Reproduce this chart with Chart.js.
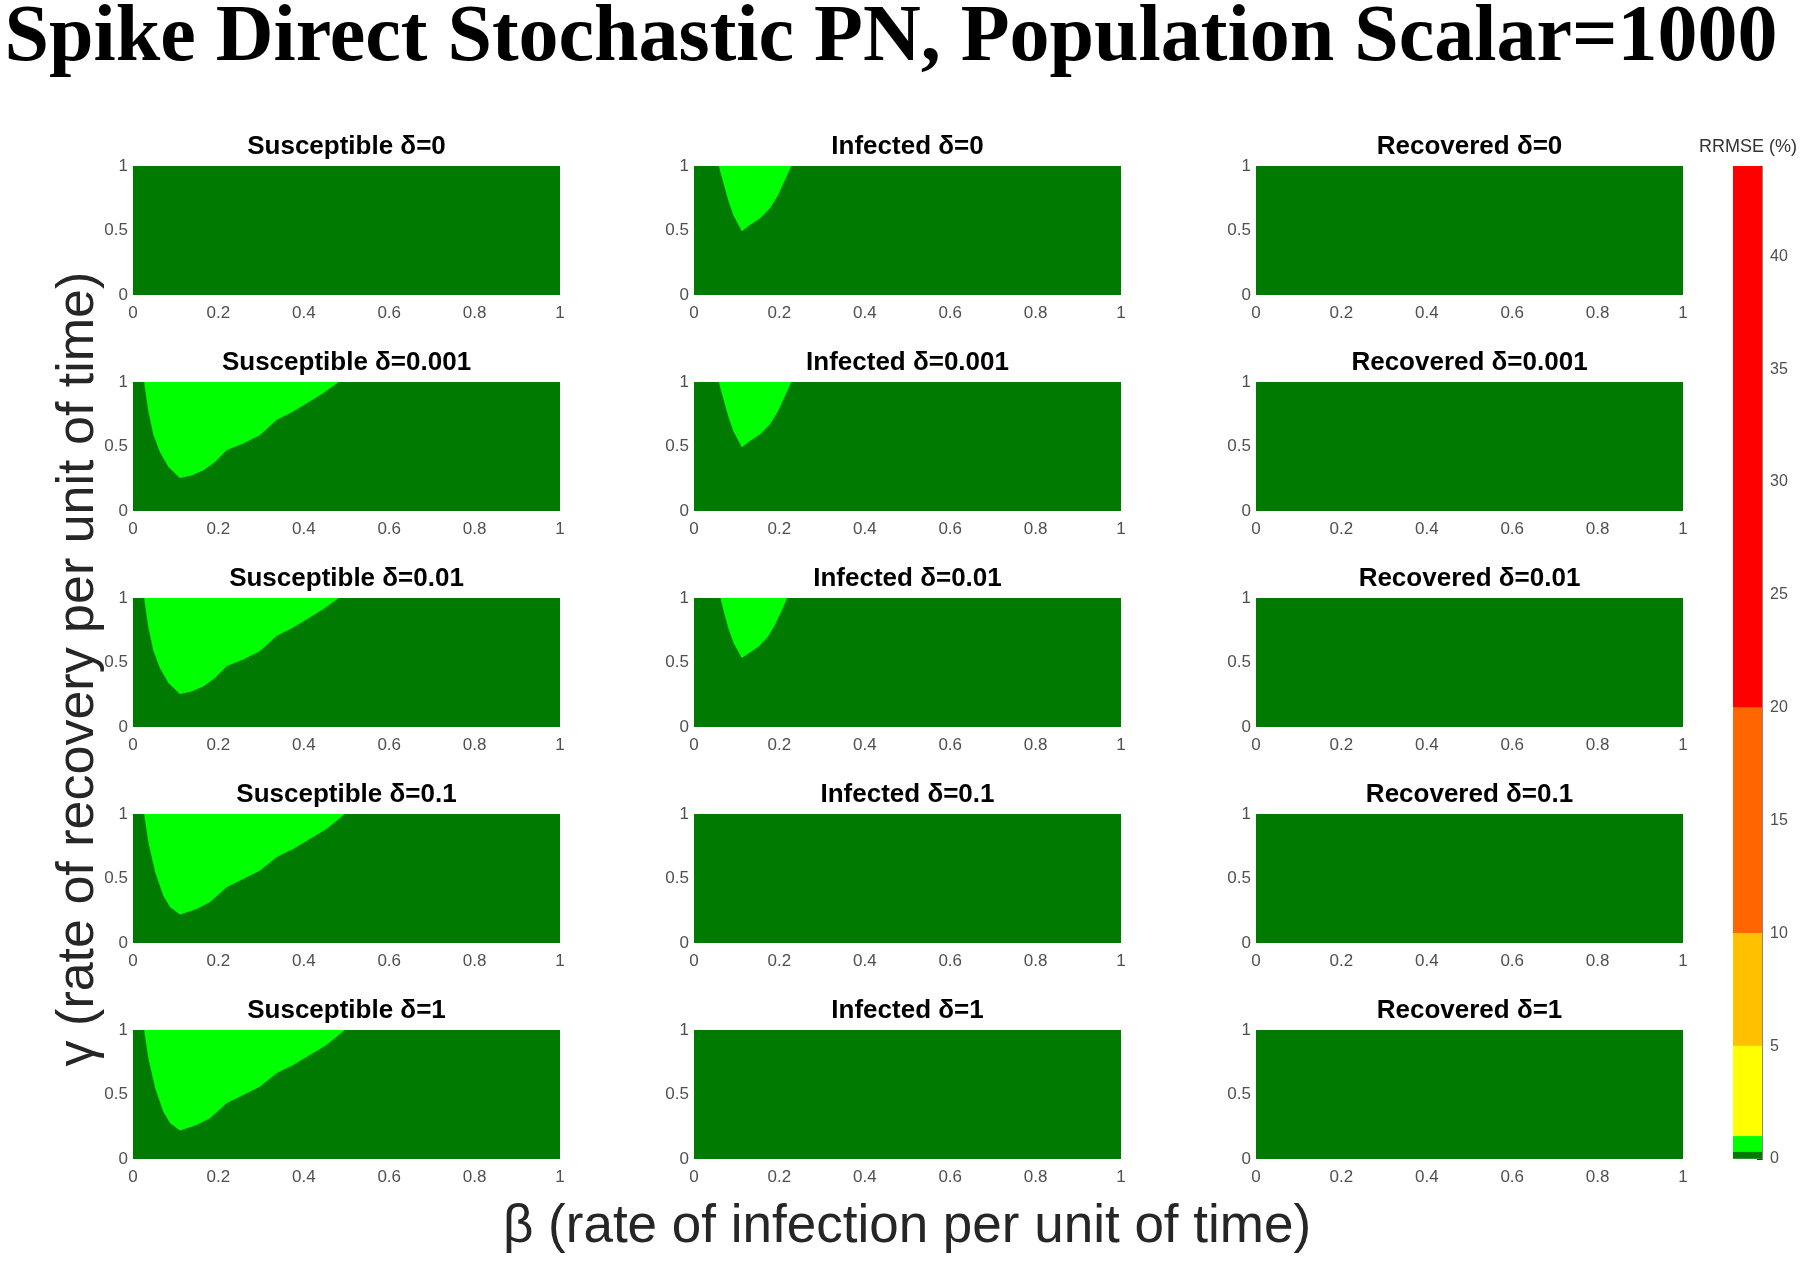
<!DOCTYPE html>
<html>
<head>
<meta charset="utf-8">
<script src="https://cdn.jsdelivr.net/npm/chart.js@4.4.1/dist/chart.umd.min.js"></script>
<style>
html,body{margin:0;padding:0;background:#fff;width:1800px;height:1263px;overflow:hidden;position:relative;}
canvas{position:absolute;}
.lbl{position:absolute;white-space:nowrap;text-align:center;}
#title{left:0;top:-7px;width:1782px;height:80px;font:bold 80px/80px "Liberation Serif","Times New Roman",serif;color:#000;}
#xlabel{left:407px;width:1000px;top:1197px;height:53px;font:53px/53px "Liberation Sans",Arial,sans-serif;color:#262626;}
#ylabel{left:-425px;width:1000px;top:643px;height:52px;font:52px/52px "Liberation Sans",Arial,sans-serif;color:#262626;transform:rotate(-90deg);transform-origin:50% 50%;}
</style>
</head>
<body>
<div id="title" class="lbl">Spike Direct Stochastic PN, Population Scalar=1000</div>
<div id="ylabel" class="lbl">γ (rate of recovery per unit of time)</div>
<div id="xlabel" class="lbl">β (rate of infection per unit of time)</div>
<script>
// ---------------- data ----------------
const compartments = ['Susceptible', 'Infected', 'Recovered'];
const deltaLabels = ['0', '0.001', '0.01', '0.1', '1'];
const betaTicks = [0, 0.2, 0.4, 0.6, 0.8, 1];
const gammaTicks = [0, 0.5, 1];
const betaRange = [0, 1];
const gammaRange = [0, 1];

// boundary of the bright-green (0.3–1 % RRMSE) region; region lies above the curve
const susBetaA  = [0.026, 0.036, 0.048, 0.063, 0.083, 0.110, 0.137, 0.165, 0.192, 0.219, 0.258, 0.297, 0.336, 0.375, 0.414, 0.446, 0.482];
const susGammaA = [1.000, 0.771, 0.588, 0.458, 0.341, 0.255, 0.276, 0.315, 0.380, 0.471, 0.523, 0.588, 0.706, 0.771, 0.849, 0.914, 1.000];
const susBetaB  = [0.026, 0.036, 0.052, 0.071, 0.087, 0.110, 0.149, 0.180, 0.219, 0.258, 0.297, 0.336, 0.375, 0.414, 0.453, 0.496];
const susGammaB = [1.000, 0.780, 0.548, 0.367, 0.277, 0.220, 0.264, 0.315, 0.432, 0.496, 0.560, 0.664, 0.729, 0.806, 0.884, 1.000];
const infBetaA  = [0.058, 0.069, 0.080, 0.092, 0.112, 0.131, 0.155, 0.178, 0.197, 0.213, 0.228];
const infGammaA = [1.000, 0.866, 0.736, 0.620, 0.495, 0.543, 0.594, 0.672, 0.775, 0.891, 1.000];
const infBetaB  = [0.062, 0.071, 0.081, 0.093, 0.112, 0.130, 0.152, 0.173, 0.190, 0.205, 0.218];
const infGammaB = [1.000, 0.880, 0.760, 0.650, 0.535, 0.575, 0.625, 0.700, 0.795, 0.900, 1.000];

// region shown in each panel: rows = delta, columns = compartment
const panelRegions = [
  [null,                             {beta: infBetaA, gamma: infGammaA}, null],
  [{beta: susBetaA, gamma: susGammaA}, {beta: infBetaA, gamma: infGammaA}, null],
  [{beta: susBetaA, gamma: susGammaA}, {beta: infBetaB, gamma: infGammaB}, null],
  [{beta: susBetaB, gamma: susGammaB}, null,                             null],
  [{beta: susBetaB, gamma: susGammaB}, null,                             null]
];

// colour bar (RRMSE %)
const colorbarEdges = [0, 0.3, 1, 5, 10, 20, 44];
const colorbarColors = ['#007A00', '#00FF00', '#FFFF00', '#FFC000', '#FF6600', '#FF0000'];
const colorbarTicks = [0, 5, 10, 15, 20, 25, 30, 35, 40];

// ---------------- drawing ----------------
Chart.defaults.font.family = '"Liberation Sans", Arial, sans-serif';
Chart.defaults.animation = false;
Chart.defaults.events = [];
const TICK = '#505050';

const plotLefts = [133, 694, 1256];
const plotTops = [166, 382, 598, 814, 1030];
const PW = 427, PH = 129, YAX = 45, XAX = 30, TTL = 32;

function makeCanvas(left, top, w, h) {
  const c = document.createElement('canvas');
  c.width = w; c.height = h;
  c.style.left = left + 'px'; c.style.top = top + 'px';
  c.style.width = w + 'px'; c.style.height = h + 'px';
  document.body.appendChild(c);
  return c;
}

function panel(row, col) {
  const region = panelRegions[row][col];
  const datasets = [];
  if (region) {
    datasets.push({
      data: region.beta.map((b, i) => ({x: b, y: region.gamma[i]})),
      fill: 'end', backgroundColor: colorbarColors[1], borderColor: 'rgba(0,0,0,0)',
      borderWidth: 0, pointRadius: 0, tension: 0, order: 0
    });
  }
  datasets.push({
    data: betaRange.map(b => ({x: b, y: gammaRange[1]})),
    fill: 'start', backgroundColor: colorbarColors[0], borderColor: 'rgba(0,0,0,0)',
    borderWidth: 0, pointRadius: 0, tension: 0, order: 1
  });
  const w = YAX + PW + YAX, h = TTL + PH + XAX;
  const cv = makeCanvas(plotLefts[col] - YAX, plotTops[row] - TTL, w, h);
  new Chart(cv, {
    type: 'line',
    data: {datasets},
    options: {
      responsive: false, devicePixelRatio: 1,
      layout: {padding: {left: 0, right: YAX, top: 0, bottom: 0}},
      plugins: {
        legend: {display: false}, tooltip: {enabled: false},
        title: {display: true, fullSize: false, text: compartments[col] + ' δ=' + deltaLabels[row], color: '#000',
                font: {size: 26, weight: 'bold', lineHeight: 1}, padding: {top: 0, bottom: 6}}
      },
      scales: {
        x: {type: 'linear', min: betaRange[0], max: betaRange[1],
            afterBuildTicks: s => { s.ticks = betaTicks.map(v => ({value: v})); },
            afterFit: s => { s.height = XAX; },
            grid: {display: false, drawTicks: false}, border: {display: false},
            ticks: {padding: 8, color: TICK, font: {size: 17}, maxRotation: 0, autoSkip: false, callback: v => String(v)}},
        y: {type: 'linear', min: gammaRange[0], max: gammaRange[1],
            afterBuildTicks: s => { s.ticks = gammaTicks.map(v => ({value: v})); },
            afterFit: s => { s.width = YAX; },
            grid: {display: false, drawTicks: false}, border: {display: false},
            ticks: {padding: 5, color: TICK, font: {size: 17}, autoSkip: false, callback: v => String(v)}}
      }
    }
  });
}

for (let r = 0; r < deltaLabels.length; r++)
  for (let c = 0; c < compartments.length; c++) panel(r, c);

// colour bar
(function () {
  const left = 1696, top = 138, w = 104, h = 28 + 993 + 23;
  const cv = makeCanvas(left, top, w, h);
  const datasets = colorbarColors.map((col, i) => ({
    data: [[colorbarEdges[i], colorbarEdges[i + 1]]],
    xAxisID: 'x', yAxisID: 'y',
    backgroundColor: col, borderWidth: 0, barPercentage: 1, categoryPercentage: 1, grouped: false
  }));
  new Chart(cv, {
    type: 'bar',
    data: {labels: [''], datasets},
    options: {
      responsive: false, devicePixelRatio: 1,
      layout: {padding: {left: 0, right: 0, top: 0, bottom: 23}},
      plugins: {
        legend: {display: false}, tooltip: {enabled: false},
        title: {display: true, text: 'RRMSE (%)', color: '#333', font: {size: 18, weight: 'normal', lineHeight: 1},
                padding: {top: 0, bottom: 10}}
      },
      scales: {
        x: {display: false},
        y: {position: 'right', min: colorbarEdges[0], max: colorbarEdges[colorbarEdges.length - 1],
            afterBuildTicks: s => { s.ticks = colorbarTicks.map(v => ({value: v})); },
            afterFit: s => { s.width = 38; },
            grid: {display: true, drawOnChartArea: false, drawTicks: true, tickLength: -5, color: '#333'},
            border: {display: true, color: '#888'},
            ticks: {padding: 13, color: TICK, font: {size: 16}, autoSkip: false, callback: v => String(v)}},
        yl: {type: 'linear', position: 'left', min: 0, max: 1, display: true,
             grid: {display: false, drawTicks: false}, border: {display: false}, ticks: {display: false},
             afterFit: s => { s.width = 37; }}
      }
    }
  });
})();
</script>
</body>
</html>
